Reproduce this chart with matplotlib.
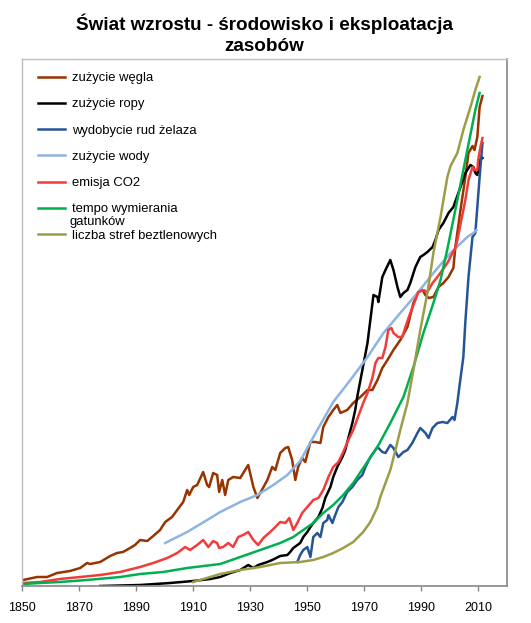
import matplotlib
matplotlib.use("Agg")
import matplotlib.pyplot as plt

plt.rcParams['font.family'] = ['Liberation Sans', 'DejaVu Sans']

# ---- data (relative index, arbitrary units) ----
coal_years = [1850.4, 1855.3, 1858.8, 1862.3, 1866.8, 1870.4, 1872.8, 1873.9, 1877.4, 1880.9,
              1883.3, 1885.4, 1887.9, 1889.6, 1891.4, 1893.9, 1896.0, 1898.4, 1900.2, 1902.6,
              1904.4, 1906.5, 1907.9, 1908.6, 1910.0, 1911.4, 1913.5, 1914.9, 1915.6, 1917.0,
              1918.4, 1919.1, 1920.2, 1921.2, 1922.3, 1924.0, 1926.5, 1928.2, 1929.3, 1931.1,
              1932.5, 1933.5, 1936.0, 1937.7, 1938.8, 1940.5, 1942.3, 1943.3, 1944.7, 1945.8,
              1946.8, 1948.2, 1949.3, 1951.1, 1952.8, 1954.6, 1955.6, 1957.4, 1959.1, 1960.5,
              1961.6, 1964.0, 1966.1, 1968.6, 1971.1, 1972.8, 1974.6, 1976.3, 1978.1, 1980.2,
              1982.6, 1985.1, 1987.2, 1988.9, 1990.4, 1991.4, 1992.5, 1994.2, 1996.0, 1997.7,
              1999.5, 2001.2, 2001.9, 2003.7, 2005.4, 2006.5, 2007.9, 2008.6, 2009.6, 2010.4,
              2011.4]
coal_vals = [6, 9, 9, 13, 15, 18, 23, 22, 24, 30,
             33, 34, 38, 41, 46, 45, 50, 56, 64, 69,
             76, 84, 96, 91, 99, 101, 114, 101, 99, 113,
             111, 94, 106, 91, 106, 109, 108, 116, 121, 99,
             88, 93, 106, 119, 116, 133, 138, 139, 126, 106,
             119, 128, 124, 144, 144, 143, 159, 169, 176, 181,
             173, 176, 183, 189, 196, 196, 206, 218, 226, 236,
             246, 259, 283, 294, 296, 291, 288, 289, 299, 303,
             309, 318, 339, 376, 409, 433, 440, 436, 449, 479,
             490]

oil_years = [1877.4, 1891.4, 1901.9, 1910.0, 1916.0, 1919.5, 1923.0, 1926.5, 1929.3, 1931.1,
             1932.8, 1936.0, 1937.7, 1940.5, 1943.0, 1944.0, 1945.1, 1947.5, 1948.6, 1950.0,
             1951.1, 1952.1, 1953.9, 1955.3, 1956.3, 1958.1, 1959.1, 1960.5, 1962.3, 1963.3,
             1964.4, 1965.8, 1966.8, 1967.5, 1969.3, 1971.1, 1972.1, 1973.2, 1974.6, 1974.9,
             1976.3, 1977.4, 1979.1, 1980.2, 1981.6, 1982.6, 1983.7, 1985.1, 1986.1, 1987.9,
             1989.6, 1990.7, 1992.1, 1993.9, 1994.9, 1996.0, 1997.7, 1999.5, 2001.2, 2003.7,
             2005.4, 2007.2, 2008.2, 2008.9, 2009.6, 2010.4, 2011.4]
oil_vals = [0, 1, 3, 5, 7, 9, 13, 16, 21, 18,
            21, 24, 26, 30, 31, 34, 38, 43, 49, 54,
            59, 63, 69, 78, 88, 99, 109, 119, 129, 136,
            148, 163, 176, 189, 216, 243, 266, 291, 289, 284,
            309, 316, 326, 316, 299, 289, 293, 296, 303, 319,
            329, 331, 334, 339, 346, 356, 363, 373, 379, 399,
            413, 421, 419, 413, 411, 426, 428]

iron_years = [1946.5, 1947.5, 1948.6, 1950.0, 1951.1, 1952.1, 1953.5, 1954.6, 1955.6, 1957.0,
              1957.4, 1958.8, 1959.8, 1960.9, 1962.3, 1964.0, 1965.8, 1967.5, 1969.3, 1970.4,
              1972.1, 1974.6, 1976.3, 1977.4, 1979.1, 1980.2, 1981.9, 1983.7, 1985.1, 1986.8,
              1988.6, 1989.6, 1991.4, 1992.5, 1993.9, 1995.6, 1997.4, 1999.1, 2000.9, 2001.6,
              2002.6, 2003.3, 2004.7, 2005.4, 2006.5, 2007.9, 2008.9, 2009.6, 2010.4, 2011.4]
iron_vals = [24, 31, 36, 39, 29, 49, 53, 49, 63, 66,
             71, 63, 71, 79, 84, 94, 99, 106, 111, 119,
             129, 139, 134, 133, 141, 138, 129, 134, 136, 143,
             153, 158, 153, 148, 158, 163, 164, 163, 169, 166,
             183, 199, 229, 264, 309, 349, 353, 379, 409, 443]

water_years = [1900.2, 1907.9, 1914.9, 1919.5, 1926.5, 1932.5, 1938.1, 1943.0, 1947.5, 1953.5,
               1959.1, 1965.1, 1971.1, 1976.7, 1982.6, 1988.6, 1994.2, 2000.2, 2006.1, 2008.2,
               2009.3]
water_vals = [43, 54, 66, 74, 84, 91, 101, 111, 125, 156,
              184, 206, 229, 253, 273, 293, 313, 333, 349, 353,
              356]

co2_years = [1850.4, 1856.3, 1863.3, 1870.4, 1877.4, 1884.4, 1891.4, 1896.0, 1900.9, 1904.4,
             1907.2, 1908.9, 1911.4, 1913.5, 1915.3, 1917.0, 1918.4, 1919.1, 1920.5, 1922.3,
             1924.0, 1925.8, 1927.5, 1929.3, 1931.1, 1932.8, 1934.6, 1937.0, 1938.8, 1940.5,
             1942.3, 1943.7, 1945.1, 1946.5, 1948.2, 1950.0, 1952.1, 1953.9, 1955.6, 1957.4,
             1959.1, 1960.9, 1962.6, 1964.4, 1966.1, 1967.9, 1969.6, 1971.1, 1972.8, 1973.9,
             1974.9, 1976.3, 1977.4, 1978.4, 1979.5, 1980.2, 1981.9, 1983.3, 1984.4, 1986.1,
             1987.9, 1988.9, 1990.7, 1992.1, 1993.9, 1995.6, 1997.4, 1999.1, 2000.9, 2001.9,
             2002.6, 2003.3, 2005.4, 2006.5, 2007.9, 2008.6, 2009.6, 2009.9, 2010.7, 2011.4]
co2_vals = [3, 4, 7, 9, 11, 14, 19, 23, 28, 33,
            39, 36, 41, 46, 39, 45, 43, 38, 39, 43,
            39, 49, 51, 54, 46, 41, 48, 54, 59, 64,
            63, 68, 56, 63, 73, 79, 86, 88, 96, 109,
            119, 124, 134, 146, 156, 170, 183, 193, 208, 223,
            228, 228, 239, 256, 258, 253, 249, 249, 259, 273,
            286, 294, 296, 294, 303, 309, 316, 323, 333, 338,
            346, 356, 386, 406, 419, 416, 416, 426, 439, 448]

species_years = [1850.4, 1856.3, 1863.3, 1872.8, 1884.4, 1891.4, 1899.5, 1907.9, 1919.5, 1926.5,
                 1933.5, 1940.5, 1945.1, 1948.6, 1952.1, 1955.6, 1959.1, 1962.6, 1966.1, 1969.6,
                 1974.6, 1979.1, 1983.7, 1987.2, 1990.7, 1994.2, 1996.7, 1999.1, 2002.6, 2006.1,
                 2008.9, 2010.4]
species_vals = [2, 3, 4, 6, 9, 12, 14, 18, 22, 29,
                36, 43, 49, 56, 63, 73, 81, 91, 103, 118,
                139, 163, 189, 219, 253, 283, 306, 337, 386, 436,
                476, 493]

hypoxia_years = [1910.0, 1919.5, 1926.5, 1933.5, 1940.5, 1947.5, 1952.1, 1955.6, 1959.1, 1962.6,
                 1966.1, 1969.6, 1972.1, 1974.6, 1975.6, 1979.1, 1980.9, 1982.6, 1985.1, 1987.2,
                 1989.6, 1992.1, 1994.2, 1996.7, 1999.1, 2000.2, 2002.6, 2004.7, 2007.2, 2008.9,
                 2010.4]
hypoxia_vals = [4, 12, 16, 19, 23, 24, 26, 29, 33, 38,
                44, 54, 64, 79, 89, 116, 136, 156, 183, 216,
                256, 293, 333, 369, 409, 420, 433, 456, 479, 496,
                509]

labels = ["zużycie węgla", "zużycie ropy", "wydobycie rud żelaza", "zużycie wody",
          "emisja CO2", "tempo wymierania", "liczba stref beztlenowych"]
xticks = [1850, 1870, 1890, 1910, 1930, 1950, 1970, 1990, 2010]
title = "Świat wzrostu - środowisko i eksploatacja\nzasobów"

# ---- figure ----
W, H = 531, 623
fig = plt.figure(figsize=(W / 100, H / 100), dpi=100)
ax = fig.add_axes([22 / W, 1 - 586 / H, (507 - 22) / W, (586 - 59) / H])

series = [
    (coal_years, coal_vals, '#993300'),
    (oil_years, oil_vals, '#000000'),
    (iron_years, iron_vals, '#265596'),
    (water_years, water_vals, '#8DB4E2'),
    (co2_years, co2_vals, '#F23B3B'),
    (species_years, species_vals, '#00B050'),
    (hypoxia_years, hypoxia_vals, '#9C9D48'),
]
for (xs, ys, c), lab in zip(series, labels):
    ax.plot(xs, ys, color=c, lw=1.8, label=lab, solid_joinstyle='round')

ax.set_xlim(1850, 2020)
ax.set_ylim(0, 527)
ax.set_xticks(xticks)
ax.set_xticklabels([str(t) for t in xticks], fontsize=9)
ax.set_yticks([])
ax.tick_params(axis='x', direction='out', length=3.5, width=1, color='#868686', pad=8)

for s in ['bottom', 'right']:
    ax.spines[s].set_color('#868686')
    ax.spines[s].set_linewidth(1.2)
for s in ['top', 'left']:
    ax.spines[s].set_color('#BDBDBD')
    ax.spines[s].set_linewidth(1.0)

leg = ax.legend(loc='upper left', bbox_to_anchor=(38 / W, 1 - 72 / H),
                bbox_transform=fig.transFigure, frameon=False, fontsize=9.4,
                handlelength=2.1, handletextpad=0.5, labelspacing=1.08,
                borderpad=0, borderaxespad=0)
fig.text(69 / W, 1 - 222 / H, "gatunków", fontsize=9.4, va='center', ha='left')

fig.text(264 / W, 1 - 34 / H, title, fontsize=13.6, fontweight='bold',
         ha='center', va='center', linespacing=1.3)

fig.savefig("out.png", dpi=100)
